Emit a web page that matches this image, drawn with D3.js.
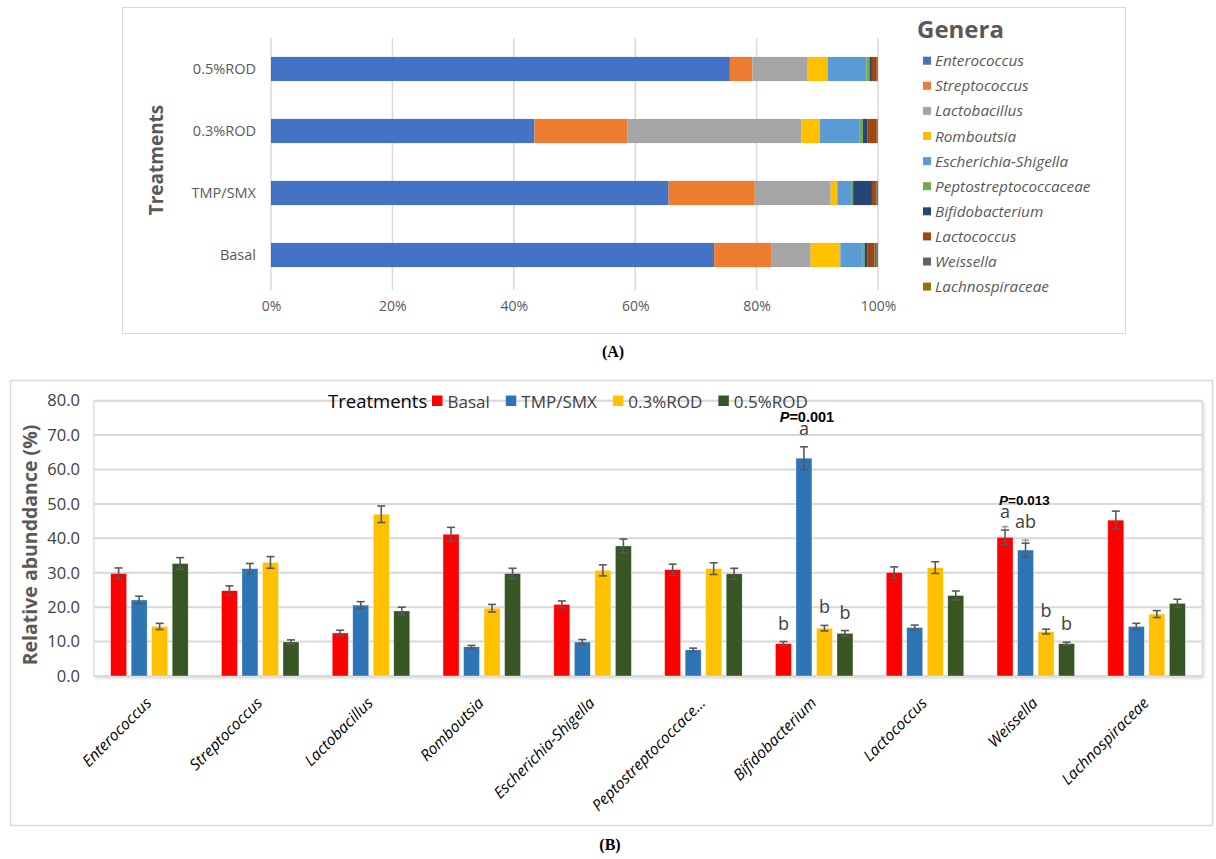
<!DOCTYPE html>
<html><head><meta charset="utf-8">
<script src="https://cdn.jsdelivr.net/npm/d3@7"></script>
<style>body{margin:0;background:#fff} svg{display:block}</style>
</head><body>
<svg id="chart" width="1216" height="859"></svg>
<script>
// ---------- Panel A: relative composition of the top genera (%) ----------
const treatmentsA = ["0.5%ROD", "0.3%ROD", "TMP/SMX", "Basal"];
const genera = ["Enterococcus", "Streptococcus", "Lactobacillus", "Romboutsia", "Escherichia-Shigella",
  "Peptostreptococcaceae", "Bifidobacterium", "Lactococcus", "Weissella", "Lachnospiraceae"];
const compOD05 = [75.6, 3.7, 9.0, 3.4, 6.4, 0.5, 0.4, 0.8, 0.1, 0.1];
const compOD03 = [43.4, 15.3, 28.7, 3.0, 6.5, 0.6, 0.8, 1.5, 0.1, 0.1];
const compTmpSmx = [65.5, 14.2, 12.5, 1.1, 2.4, 0.2, 3.1, 0.5, 0.3, 0.2];
const compBasal = [73.0, 9.5, 6.4, 4.9, 3.7, 0.3, 0.5, 1.1, 0.4, 0.2];
const xTicksA = [0, 0.2, 0.4, 0.6, 0.8, 1.0];
const generaColors = ["#4472C4", "#ED7D31", "#A5A5A5", "#FFC000", "#5B9BD5",
  "#70AD47", "#264478", "#9E480E", "#636363", "#997300"];

// ---------- Panel B: relative abundance by treatment (mean ± SE) ----------
const treatmentsB = ["Basal", "TMP/SMX", "0.3%ROD", "0.5%ROD"];
const generaLabels = ["Enterococcus", "Streptococcus", "Lactobacillus", "Romboutsia", "Escherichia-Shigella",
  "Peptostreptococcace…", "Bifidobacterium", "Lactococcus", "Weissella", "Lachnospiraceae"];
const meanBasal = [29.8, 24.8, 12.5, 41.2, 20.8, 30.9, 9.4, 30.1, 40.3, 45.3];
const meanTmpSmx = [22.1, 31.2, 20.6, 8.5, 9.9, 7.6, 63.3, 14.1, 36.6, 14.4];
const meanOD03 = [14.4, 33.0, 47.0, 19.7, 30.7, 31.2, 13.9, 31.5, 12.9, 18.0];
const meanOD05 = [32.7, 9.9, 18.9, 29.8, 37.8, 29.7, 12.4, 23.4, 9.4, 21.1];
const seBasal = [1.6, 1.4, 0.8, 2.0, 1.0, 1.6, 0.6, 1.6, 2.1, 2.6];
const seTmpSmx = [1.1, 1.5, 1.0, 0.4, 0.7, 0.5, 3.3, 0.7, 2.0, 0.9];
const seOD03 = [0.9, 1.7, 2.4, 1.1, 1.6, 1.7, 0.8, 1.7, 0.7, 1.0];
const seOD05 = [1.7, 0.6, 1.1, 1.5, 2.0, 1.6, 0.8, 1.3, 0.4, 1.2];
const yTicksB = [0, 10, 20, 30, 40, 50, 60, 70, 80];
const treatmentColors = ["#FF0000", "#2E75B6", "#FFC000", "#375623"];
// second (upper) whisker drawn over the Weissella bars, in units of %
const weissellaUpperWhisker = [3.5, 3.3, 0, 0];

// significance annotations
const sigGenera = ["Bifidobacterium", "Weissella"];
const sigP = ["0.001", "0.013"];
const sigLetters = [["b", "a", "b", "b"], ["a", "ab", "b", "b"]];

const svg = d3.select("#chart");
const FONT = "'Open Sans', 'Noto Sans', sans-serif";

// ================= PANEL A =================
svg.append("rect").attr("x", 122.5).attr("y", 7.5).attr("width", 1003).attr("height", 326)
  .attr("fill", "#fff").attr("stroke", "#d9d9d9").attr("stroke-width", 1);

const compRows = [compOD05, compOD03, compTmpSmx, compBasal];
const xA = d3.scaleLinear().domain([0, 1]).range([271, 878]);
const yA = d3.scaleBand().domain(treatmentsA).range([38, 286]).paddingInner(0.61).paddingOuter(0.305);

const gA = svg.append("g");
// vertical gridlines
gA.selectAll("line.grid").data(xTicksA).join("line")
  .attr("x1", d => xA(d)).attr("x2", d => xA(d))
  .attr("y1", 38).attr("y2", 290)
  .attr("stroke", "#d9d9d9").attr("stroke-width", 1.5);

// stacked segments
const stackData = treatmentsA.map((t, i) => {
  const obj = { t };
  genera.forEach((g, j) => obj[g] = compRows[i][j] / 100);
  return obj;
});
const stack = d3.stack().keys(genera)(stackData);
gA.selectAll("g.layer").data(stack).join("g")
  .attr("fill", (d, i) => generaColors[i])
  .selectAll("rect").data(d => d).join("rect")
  .attr("x", d => xA(d[0]))
  .attr("width", d => Math.max(0, xA(d[1]) - xA(d[0])))
  .attr("y", d => yA(d.data.t))
  .attr("height", yA.bandwidth());

// x axis tick labels
const axA = d3.axisBottom(xA).tickValues(xTicksA).tickFormat(d3.format(".0%")).tickSize(0).tickPadding(0);
const axAg = svg.append("g").attr("transform", "translate(0,301)").call(axA);
axAg.select(".domain").remove();
axAg.selectAll("text").attr("font-family", FONT).attr("font-size", 14).attr("fill", "#595959").attr("dy", "0.71em");

// y axis category labels
const ayA = d3.axisLeft(yA).tickSize(0).tickPadding(0);
const ayAg = svg.append("g").attr("transform", "translate(256,0)").call(ayA);
ayAg.select(".domain").remove();
ayAg.selectAll("text").attr("font-family", FONT).attr("font-size", 14.5).attr("fill", "#595959");

svg.append("text").attr("transform", "translate(163,160) rotate(-90)")
  .attr("text-anchor", "middle").attr("font-family", FONT).attr("font-size", 19)
  .attr("font-weight", "bold").attr("fill", "#595959").text("Treatments");

// legend
svg.append("text").attr("x", 917).attr("y", 38).attr("font-family", FONT)
  .attr("font-size", 24).attr("font-weight", "bold").attr("fill", "#595959").text("Genera");
const legA = svg.append("g").selectAll("g").data(genera).join("g")
  .attr("transform", (d, i) => `translate(923,${60.7 + i * 25.1})`);
legA.append("rect").attr("x", 0).attr("y", -4).attr("width", 8).attr("height", 8)
  .attr("fill", (d, i) => generaColors[i]);
legA.append("text").attr("x", 12).attr("y", 5.5).attr("font-family", FONT).attr("font-size", 15.3)
  .attr("font-style", "italic").attr("fill", "#595959").text(d => d);

svg.append("text").attr("x", 613).attr("y", 357).attr("text-anchor", "middle")
  .attr("font-family", "'Liberation Serif', serif").attr("font-weight", "bold").attr("font-size", 16)
  .text("(A)");

// ================= PANEL B =================
svg.append("rect").attr("x", 10.5).attr("y", 380.5).attr("width", 1202).attr("height", 445)
  .attr("fill", "#fff").attr("stroke", "#d9d9d9").attr("stroke-width", 1.5);

const defs = svg.append("defs");
const f = defs.append("filter").attr("id", "shadow").attr("x", "-2%").attr("y", "-2%").attr("width", "104%").attr("height", "106%");
f.append("feDropShadow").attr("dx", 1.5).attr("dy", 1.5).attr("stdDeviation", 1.5).attr("flood-color", "#000").attr("flood-opacity", 0.18);

const plotL = 94, plotR = 1202, plotT = 400.7, plotB = 676;
const yB = d3.scaleLinear().domain([0, 80]).range([plotB, plotT]);
const x0 = d3.scaleBand().domain(generaLabels).range([plotL, plotR]).paddingInner(0.3).paddingOuter(0.15);
const x1 = d3.scaleBand().domain(treatmentsB).range([0, x0.bandwidth()]).paddingInner(0.22).paddingOuter(0);

svg.append("rect").attr("x", plotL).attr("y", plotT).attr("width", plotR - plotL).attr("height", plotB - plotT)
  .attr("fill", "#fff").attr("stroke", "#d9d9d9").attr("stroke-width", 1.2).attr("filter", "url(#shadow)");

// horizontal gridlines
svg.append("g").selectAll("line").data(yTicksB).join("line")
  .attr("x1", plotL).attr("x2", plotR)
  .attr("y1", d => yB(d)).attr("y2", d => yB(d))
  .attr("stroke", "#d9d9d9").attr("stroke-width", 2);

// y tick labels
const ayB = d3.axisLeft(yB).tickValues(yTicksB).tickFormat(d3.format(".1f")).tickSize(0).tickPadding(0);
const ayBg = svg.append("g").attr("transform", "translate(80,0)").call(ayB);
ayBg.select(".domain").remove();
ayBg.selectAll("text").attr("font-family", FONT).attr("font-size", 16.5).attr("fill", "#404040");

svg.append("text").attr("transform", "translate(37,545) rotate(-90)")
  .attr("text-anchor", "middle").attr("font-family", FONT).attr("font-size", 19.5)
  .attr("font-weight", "bold").attr("fill", "#595959").text("Relative abunddance (%)");

// bars
const means = [meanBasal, meanTmpSmx, meanOD03, meanOD05];
const ses = [seBasal, seTmpSmx, seOD03, seOD05];
const barData = [];
generaLabels.forEach((g, gi) => treatmentsB.forEach((t, ti) => {
  barData.push({ g, gi, t, ti, v: means[ti][gi], e: ses[ti][gi] });
}));
const barX = d => x0(d.g) + x1(d.t);
const bw = x1.bandwidth();

svg.append("g").selectAll("rect").data(barData).join("rect")
  .attr("x", barX).attr("width", bw)
  .attr("y", d => yB(d.v)).attr("height", d => yB(0) - yB(d.v))
  .attr("fill", d => treatmentColors[d.ti])
  .attr("stroke", "rgba(255,255,255,0.6)").attr("stroke-width", 0.6);

// error bars
const eb = svg.append("g").attr("stroke", "#595959").attr("stroke-width", 1.6);
const wIdx = generaLabels.indexOf("Weissella");
barData.forEach(d => {
  const cx = barX(d) + bw / 2;
  const yt = yB(d.v + d.e), yb = yB(d.v - d.e);
  if (d.gi === wIdx && weissellaUpperWhisker[d.ti] > 0) {
    const ye = yB(d.v + weissellaUpperWhisker[d.ti]);
    eb.append("line").attr("x1", cx).attr("x2", cx).attr("y1", ye).attr("y2", yt).attr("stroke", "#8c8c8c").attr("stroke-width", 1.2);
    eb.append("line").attr("x1", cx - 3.5).attr("x2", cx + 3.5).attr("y1", ye + 1.5).attr("y2", ye + 1.5).attr("stroke", "#8c8c8c").attr("stroke-width", 1.2);
  }
  eb.append("line").attr("x1", cx).attr("x2", cx).attr("y1", yt).attr("y2", yb);
  eb.append("line").attr("x1", cx - 4).attr("x2", cx + 4).attr("y1", yt).attr("y2", yt);
  eb.append("line").attr("x1", cx - 4).attr("x2", cx + 4).attr("y1", yb).attr("y2", yb);
});

// x labels (rotated)
const axB = d3.axisBottom(x0).tickSize(0).tickPadding(0);
const axBg = svg.append("g").attr("transform", `translate(0,${plotB})`).call(axB);
axBg.select(".domain").remove();
axBg.selectAll("text")
  .attr("font-family", FONT).attr("font-size", 15.5).attr("font-style", "italic").attr("fill", "#000")
  .attr("text-anchor", "end").attr("dy", 0)
  .attr("transform", "translate(3,28) rotate(-45)");

// legend
const legB = svg.append("g").attr("font-family", FONT);
legB.append("text").attr("x", 328).attr("y", 408).attr("font-size", 18.5).attr("fill", "#000").text("Treatments");
let lx = 432;
treatmentsB.forEach((t, i) => {
  legB.append("rect").attr("x", lx).attr("y", 395.5).attr("width", 10.5).attr("height", 10.5).attr("fill", treatmentColors[i]);
  const tx = legB.append("text").attr("x", lx + 15.5).attr("y", 408).attr("font-size", 17).attr("fill", "#404040").text(t);
  lx += 15.5 + tx.node().getComputedTextLength() + 16;
});

// significance letters and P values
const pFontSizes = [14.5, 13.5];
sigGenera.forEach((g, si) => {
  const gi = genera.indexOf(g);
  const gl = generaLabels[gi];
  let aX = 0, aY = 0;
  sigLetters[si].forEach((L, ti) => {
    const cx = x0(gl) + x1(treatmentsB[ti]) + bw / 2;
    const ly = yB(means[ti][gi] + ses[ti][gi]) - (L === "ab" ? 15 : 12);
    svg.append("text").attr("x", cx).attr("y", ly).attr("text-anchor", "middle")
      .attr("font-family", FONT).attr("font-size", 18).attr("fill", "#404040").text(L);
    if (L === "a") { aX = cx; aY = ly; }
  });
  const pt = svg.append("text").attr("y", aY - 13)
    .attr("font-family", "'Liberation Sans', Arial, sans-serif").attr("font-size", pFontSizes[si]).attr("font-weight", "bold").attr("fill", "#000");
  pt.append("tspan").attr("font-style", "italic").text("P");
  pt.append("tspan").text("=" + sigP[si]);
  if (si === 0) pt.attr("x", aX + 3).attr("text-anchor", "middle");
  else pt.attr("x", aX - 6).attr("text-anchor", "start");
});

svg.append("text").attr("x", 610).attr("y", 850).attr("text-anchor", "middle")
  .attr("font-family", "'Liberation Serif', serif").attr("font-weight", "bold").attr("font-size", 16)
  .text("(B)");
</script>
</body></html>
